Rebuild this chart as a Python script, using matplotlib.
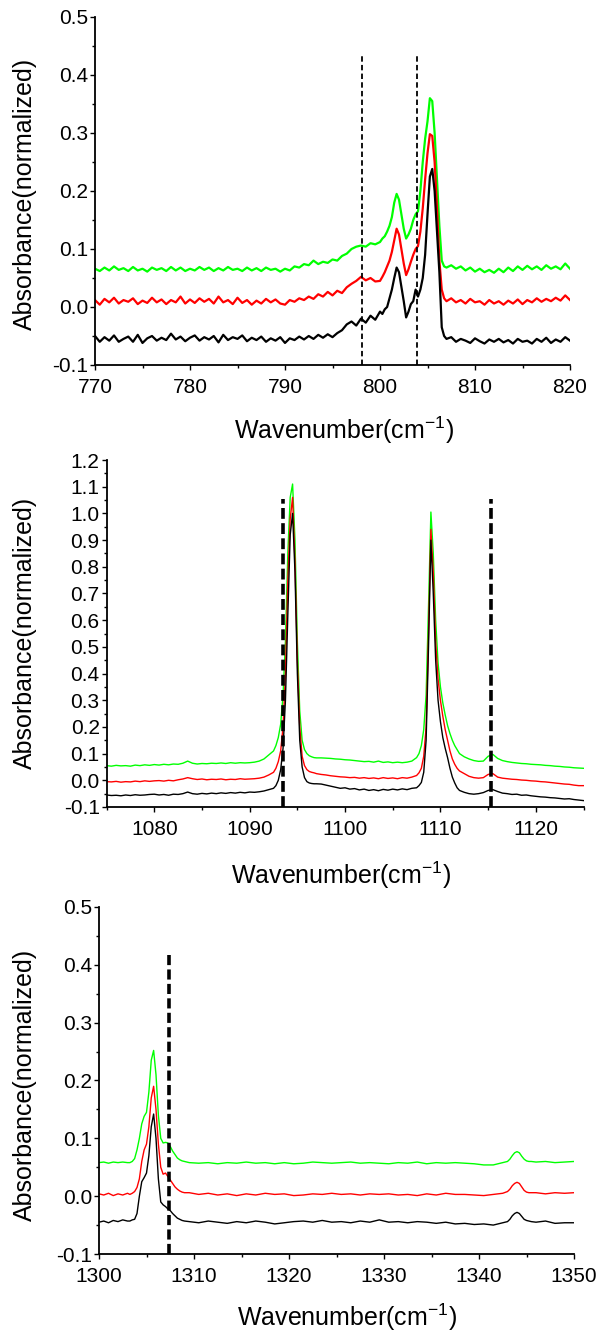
import numpy as np
import matplotlib
matplotlib.use('Agg')
import matplotlib.pyplot as plt
from matplotlib.ticker import MultipleLocator, FormatStrFormatter

plt.rcParams['font.family'] = ['Liberation Sans', 'DejaVu Sans']
plt.rcParams['mathtext.default'] = 'regular'
plt.rcParams['axes.unicode_minus'] = False

# ---------------- Panel 1 data (770-820 cm-1) ----------------
x1 = np.concatenate([np.arange(770, 800, 0.5), np.arange(800, 807.25, 0.25), np.arange(807.5, 820.25, 0.5)])
p1_black = [
    -0.050, -0.060, -0.052, -0.058, -0.049, -0.060, -0.055, -0.051, -0.060, -0.048,
    -0.062, -0.054, -0.050, -0.058, -0.053, -0.057, -0.046, -0.056, -0.051, -0.059,
    -0.053, -0.049, -0.058, -0.052, -0.056, -0.050, -0.061, -0.048, -0.057, -0.052,
    -0.055, -0.049, -0.059, -0.053, -0.057, -0.051, -0.060, -0.054, -0.058, -0.052,
    -0.062, -0.054, -0.057, -0.051, -0.056, -0.050, -0.055, -0.048, -0.053, -0.047,
    -0.052, -0.045, -0.040, -0.030, -0.025, -0.032, -0.020, -0.027, -0.015, -0.022,
] + [
    -0.008, -0.012, -0.004, 0.000, 0.015, 0.030, 0.050, 0.068, 0.060, 0.035,
    0.010, -0.018, -0.008, 0.005, 0.010, 0.030, 0.018, 0.030, 0.050, 0.090,
    0.160, 0.225, 0.238, 0.200, 0.130, 0.060, -0.035, -0.050, -0.055,
] + [
    -0.052, -0.060, -0.055, -0.058, -0.062, -0.054, -0.059, -0.063, -0.056, -0.060,
    -0.055, -0.061, -0.057, -0.063, -0.055, -0.060, -0.058, -0.063, -0.055, -0.060,
    -0.053, -0.062, -0.056, -0.060, -0.052, -0.058,
]
p1_red = [
    0.012, 0.004, 0.014, 0.008, 0.016, 0.006, 0.012, 0.009, 0.015, 0.005,
    0.011, 0.007, 0.016, 0.008, 0.013, 0.005, 0.012, 0.008, 0.018, 0.006,
    0.013, 0.007, 0.015, 0.009, 0.014, 0.006, 0.018, 0.008, 0.012, 0.005,
    0.016, 0.007, 0.012, 0.004, 0.011, 0.006, 0.014, 0.008, 0.013, 0.006,
    0.004, 0.012, 0.009, 0.015, 0.012, 0.018, 0.014, 0.022, 0.018, 0.026,
    0.020, 0.028, 0.024, 0.034, 0.040, 0.045, 0.052, 0.046, 0.050, 0.044,
] + [
    0.045, 0.052, 0.060, 0.070, 0.080, 0.095, 0.115, 0.135, 0.125, 0.100,
    0.075, 0.055, 0.065, 0.078, 0.090, 0.100, 0.105, 0.130, 0.170, 0.220,
    0.265, 0.298, 0.295, 0.250, 0.170, 0.080, 0.030, 0.015, 0.010,
] + [
    0.015, 0.008, 0.012, 0.006, 0.014, 0.008, 0.010, 0.004, 0.012, 0.006,
    0.010, 0.004, 0.011, 0.006, 0.013, 0.005, 0.012, 0.008, 0.015, 0.009,
    0.014, 0.010, 0.016, 0.011, 0.020, 0.012,
]
p1_green = [
    0.066, 0.062, 0.068, 0.063, 0.070, 0.064, 0.067, 0.062, 0.069, 0.063,
    0.066, 0.061, 0.068, 0.064, 0.067, 0.062, 0.069, 0.063, 0.068, 0.062,
    0.066, 0.063, 0.069, 0.064, 0.068, 0.062, 0.067, 0.063, 0.069, 0.064,
    0.066, 0.062, 0.068, 0.063, 0.067, 0.062, 0.068, 0.064, 0.066, 0.061,
    0.066, 0.063, 0.070, 0.068, 0.074, 0.072, 0.080, 0.074, 0.078, 0.076,
    0.082, 0.080, 0.088, 0.092, 0.100, 0.104, 0.106, 0.104, 0.110, 0.108,
] + [
    0.112, 0.118, 0.122, 0.130, 0.140, 0.155, 0.180, 0.195, 0.185, 0.160,
    0.135, 0.118, 0.125, 0.135, 0.150, 0.160, 0.165, 0.200, 0.250, 0.290,
    0.320, 0.360, 0.355, 0.300, 0.220, 0.140, 0.080, 0.070, 0.068,
] + [
    0.072, 0.066, 0.070, 0.063, 0.068, 0.061, 0.066, 0.060, 0.064, 0.059,
    0.066, 0.060, 0.068, 0.062, 0.070, 0.064, 0.071, 0.065, 0.070, 0.064,
    0.072, 0.066, 0.070, 0.065, 0.075, 0.066,
]
p1_dash_x = [798.1, 803.9]
p1_dash_top = 0.438

# ---------------- Panel 2 data (1075-1125 cm-1) ----------------
x2 = np.concatenate([np.arange(1075, 1092.25, 0.5), np.arange(1092.5, 1097.25, 0.25),
                     np.arange(1097.5, 1107.25, 0.5), np.arange(1107.5, 1112.25, 0.25),
                     np.arange(1112.5, 1125.25, 0.5)])
p2_black = [
    -0.055, -0.057, -0.056, -0.058, -0.055, -0.057, -0.054, -0.056, -0.055, -0.053,
    -0.052, -0.055, -0.053, -0.056, -0.052, -0.053, -0.050, -0.044, -0.050, -0.052,
    -0.049, -0.051, -0.048, -0.050, -0.047, -0.049, -0.046, -0.048, -0.045, -0.047,
    -0.044, -0.045, -0.043, -0.040, -0.035,
] + [
    -0.030, -0.020, 0.000, 0.040, 0.120, 0.300, 0.620, 0.920, 1.000, 0.780,
    0.400, 0.150, 0.050, 0.010, -0.005, -0.010, -0.012, -0.013, -0.013,
] + [
    -0.014, -0.018, -0.022, -0.026, -0.030, -0.028, -0.033, -0.031, -0.036, -0.033,
    -0.038, -0.035, -0.039, -0.034, -0.037, -0.033, -0.036, -0.032, -0.035, -0.030,
] + [
    -0.028, -0.020, -0.008, 0.030, 0.150, 0.500, 0.900, 0.700, 0.450, 0.300,
    0.220, 0.160, 0.120, 0.085, 0.045, 0.012, -0.010, -0.028, -0.038,
] + [
    -0.045, -0.050, -0.052, -0.050, -0.046, -0.038, -0.035, -0.042, -0.048, -0.050,
    -0.053, -0.052, -0.056, -0.055, -0.058, -0.060, -0.062, -0.063, -0.065, -0.066,
    -0.068, -0.070, -0.069, -0.072, -0.074, -0.076,
]
p2_red = [
    -0.005, -0.006, -0.004, -0.007, -0.005, -0.006, -0.003, -0.005, -0.002, -0.004,
    -0.002, -0.001, -0.003, 0.000, -0.002, 0.002, 0.005, 0.010, 0.006, 0.003,
    0.005, 0.002, 0.004, 0.003, 0.005, 0.002, 0.004, 0.003, 0.006, 0.004,
    0.005, 0.006, 0.008, 0.012, 0.020,
] + [
    0.030, 0.045, 0.070, 0.110, 0.200, 0.400, 0.750, 0.980, 1.060, 0.820,
    0.450, 0.200, 0.090, 0.055, 0.040, 0.033, 0.030, 0.028, 0.025,
] + [
    0.022, 0.020, 0.017, 0.015, 0.013, 0.012, 0.010, 0.011, 0.008, 0.010,
    0.007, 0.009, 0.006, 0.010, 0.007, 0.009, 0.006, 0.010, 0.008, 0.012,
] + [
    0.018, 0.028, 0.045, 0.090, 0.200, 0.550, 0.940, 0.780, 0.520, 0.380,
    0.300, 0.240, 0.190, 0.150, 0.110, 0.080, 0.060, 0.045, 0.035,
] + [
    0.025, 0.015, 0.010, 0.008, 0.010, 0.022, 0.025, 0.012, 0.008, 0.006,
    0.004, 0.003, 0.001, 0.000, -0.002, -0.003, -0.005, -0.006, -0.008, -0.010,
    -0.012, -0.014, -0.015, -0.018, -0.020, -0.020,
]
p2_green = [
    0.055, 0.053, 0.056, 0.054, 0.055, 0.053, 0.057, 0.055, 0.058, 0.056,
    0.059, 0.057, 0.060, 0.058, 0.061, 0.060, 0.064, 0.072, 0.064, 0.061,
    0.063, 0.062, 0.064, 0.063, 0.065, 0.063, 0.066, 0.064, 0.066, 0.065,
    0.066, 0.068, 0.072, 0.080, 0.095,
] + [
    0.110, 0.130, 0.160, 0.210, 0.320, 0.520, 0.850, 1.060, 1.110, 0.900,
    0.520, 0.260, 0.150, 0.115, 0.100, 0.092, 0.088, 0.085, 0.084,
] + [
    0.084, 0.083, 0.082, 0.080, 0.079, 0.077, 0.076, 0.074, 0.072, 0.070,
    0.071, 0.068, 0.072, 0.067, 0.069, 0.066, 0.068, 0.066, 0.068, 0.072,
] + [
    0.085, 0.100, 0.130, 0.190, 0.320, 0.650, 1.005, 0.850, 0.600, 0.440,
    0.350, 0.290, 0.245, 0.205, 0.175, 0.150, 0.130, 0.115, 0.100,
] + [
    0.088, 0.080, 0.074, 0.071, 0.072, 0.090, 0.097, 0.082, 0.074, 0.070,
    0.067, 0.065, 0.063, 0.062, 0.060, 0.059, 0.058, 0.056, 0.055, 0.053,
    0.052, 0.050, 0.049, 0.047, 0.046, 0.045,
]
p2_dash_x = [1093.5, 1115.3]
p2_dash_top = 1.054

# ---------------- Panel 3 data (1300-1350 cm-1) ----------------
x3 = np.concatenate([np.arange(1300, 1303.25, 0.5), np.arange(1303.25, 1309.25, 0.25),
                     np.arange(1309.5, 1343, 1.0), np.arange(1343, 1345.75, 0.25),
                     np.arange(1346, 1350.5, 1.0)])
p3_black = [
    -0.045, -0.043, -0.046, -0.042, -0.044, -0.041, -0.043,
] + [
    -0.043, -0.041, -0.040, -0.030, 0.000, 0.025, 0.032, 0.040, 0.070, 0.120,
    0.142, 0.100, 0.030, -0.010, -0.015, -0.018, -0.022, -0.025, -0.030, -0.034,
    -0.038, -0.040, -0.042, -0.043,
] + [
    -0.044, -0.046, -0.043, -0.045, -0.047, -0.044, -0.046, -0.043, -0.045, -0.048,
    -0.046, -0.044, -0.043, -0.045, -0.042, -0.045, -0.044, -0.046, -0.043, -0.045,
    -0.041, -0.045, -0.044, -0.046, -0.044, -0.045, -0.047, -0.045, -0.048, -0.047,
    -0.049, -0.048, -0.050, -0.046,
] + [
    -0.044, -0.040, -0.034, -0.030, -0.028, -0.030, -0.035, -0.040, -0.042, -0.043, -0.044,
] + [
    -0.045, -0.043, -0.047, -0.046, -0.046,
]
p3_red = [
    0.004, 0.002, 0.005, 0.001, 0.004, 0.002, 0.005,
] + [
    0.003, 0.005, 0.008, 0.015, 0.030, 0.060, 0.080, 0.090, 0.120, 0.170,
    0.190, 0.150, 0.090, 0.050, 0.038, 0.040, 0.034, 0.028, 0.022, 0.016,
    0.012, 0.009, 0.007, 0.006,
] + [
    0.006, 0.003, 0.005, 0.002, 0.004, 0.001, 0.004, 0.002, 0.005, 0.003,
    0.004, 0.001, 0.002, 0.004, 0.003, 0.005, 0.003, 0.004, 0.002, 0.004,
    0.003, 0.004, 0.002, 0.003, 0.001, 0.004, 0.002, 0.005, 0.003, 0.003,
    0.002, 0.001, 0.003, 0.005,
] + [
    0.008, 0.012, 0.018, 0.022, 0.024, 0.022, 0.016, 0.010, 0.007, 0.006, 0.006,
] + [
    0.006, 0.004, 0.006, 0.005, 0.006,
]
p3_green = [
    0.058, 0.059, 0.057, 0.059, 0.058, 0.059, 0.058,
] + [
    0.058, 0.060, 0.065, 0.080, 0.100, 0.125, 0.138, 0.145, 0.180, 0.235,
    0.252, 0.210, 0.140, 0.100, 0.092, 0.093, 0.092, 0.086, 0.078, 0.072,
    0.066, 0.063, 0.061, 0.060,
] + [
    0.058, 0.057, 0.058, 0.056, 0.058, 0.057, 0.059, 0.057, 0.058, 0.056,
    0.058, 0.056, 0.057, 0.059, 0.058, 0.057, 0.058, 0.059, 0.057, 0.058,
    0.057, 0.056, 0.058, 0.057, 0.059, 0.056, 0.058, 0.057, 0.058, 0.057,
    0.056, 0.054, 0.054, 0.058,
] + [
    0.060, 0.064, 0.070, 0.075, 0.077, 0.075, 0.069, 0.064, 0.061, 0.060, 0.060,
] + [
    0.059, 0.060, 0.058, 0.059, 0.060,
]
p3_dash_x = [1307.4]
p3_dash_top = 0.417

x_label = 'Wavenumber(cm$^{-1}$)'
y_label = 'Absorbance(normalized)'

W, H = 605, 1336
fig = plt.figure(figsize=(W / 100, H / 100), dpi=100)

panels = [
    dict(x=x1, ys=(p1_green, p1_red, p1_black), xlim=(770, 820), ylim=(-0.1, 0.5),
         rect=(95, 17, 570, 365), lw=1.6, dash_x=p1_dash_x, dash_top=p1_dash_top,
         dlw=1.3, dashes=(3.0, 1.8), ylab_y=194, xlab=(344, 430)),
    dict(x=x2, ys=(p2_green, p2_red, p2_black), xlim=(1075, 1125), ylim=(-0.1, 1.2),
         rect=(106.6, 460, 583.5, 807), lw=1.0, dash_x=p2_dash_x, dash_top=p2_dash_top,
         dlw=2.6, dashes=(3.0, 1.2), ylab_y=633, xlab=(341, 875)),
    dict(x=x3, ys=(p3_green, p3_red, p3_black), xlim=(1300, 1350), ylim=(-0.1, 0.5),
         rect=(99, 907, 574, 1254), lw=1.0, dash_x=p3_dash_x, dash_top=p3_dash_top,
         dlw=2.6, dashes=(2.8, 1.2), ylab_y=1085, xlab=(347, 1317)),
]
colors = ['#00ff00', '#ff0000', '#000000']

for p in panels:
    l, t, r, b = p['rect']
    ax = fig.add_axes([l / W, 1 - b / H, (r - l) / W, (b - t) / H])
    for y, c in zip(p['ys'], colors):
        ax.plot(p['x'], y, color=c, lw=p['lw'])
    for dx in p['dash_x']:
        ax.plot([dx, dx], [p['ylim'][0], p['dash_top']], color='black', lw=p['dlw'],
                linestyle=(0, p['dashes']))
    ax.set_xlim(*p['xlim'])
    ax.set_ylim(*p['ylim'])
    ax.spines['top'].set_visible(False)
    ax.spines['right'].set_visible(False)
    for s in ('left', 'bottom'):
        ax.spines[s].set_linewidth(1.3)
    ax.xaxis.set_major_locator(MultipleLocator(10))
    ax.xaxis.set_minor_locator(MultipleLocator(5))
    ax.yaxis.set_major_locator(MultipleLocator(0.1))
    ax.yaxis.set_minor_locator(MultipleLocator(0.05))
    ax.yaxis.set_major_formatter(FormatStrFormatter('%.1f'))
    ax.tick_params(which='major', direction='out', length=3.5, width=1.0, labelsize=15)
    ax.tick_params(which='minor', direction='out', length=2.2, width=1.0)
    ax.tick_params(axis='x', which='major', pad=6)
    ax.tick_params(axis='y', which='major', pad=1.5)
    fig.text(25 / W, 1 - p['ylab_y'] / H, y_label, rotation=90, ha='center', va='center',
             fontsize=18)
    fig.text(p['xlab'][0] / W, 1 - p['xlab'][1] / H, x_label, ha='center', va='center',
             fontsize=18)

fig.savefig('out.png', dpi=100)
